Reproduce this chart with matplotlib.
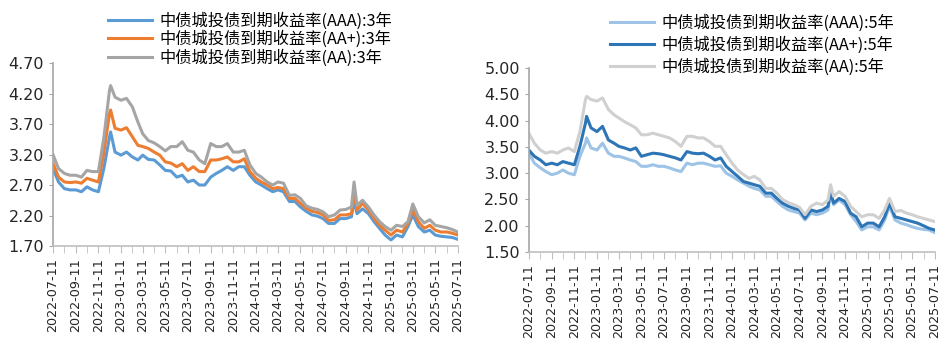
import numpy as np
import pandas as pd
import matplotlib
matplotlib.use("Agg")
import matplotlib.pyplot as plt
import matplotlib.dates as mdates
from matplotlib.ticker import FixedLocator, FormatStrFormatter

plt.rcParams['font.family'] = ['Noto Sans CJK SC', 'DejaVu Sans']

# dates : 11 et 26 de chaque mois + deux points de pic
base = []
for m in pd.period_range('2022-07', '2025-07', freq='M'):
    base += [f'{m}-11', f'{m}-26']
base = base[:-1]
extra = ['2022-12-14', '2024-10-03']
dates = pd.to_datetime(sorted(base + extra))

# 3 ans
aaa_3y = [2.97, 2.75, 2.64, 2.62, 2.62, 2.59, 2.67, 2.62, 2.59, 2.98, 3.49,
          3.57,
          3.24, 3.19, 3.24, 3.16, 3.11, 3.19, 3.12, 3.11, 3.03, 2.94,
          2.93, 2.83, 2.86, 2.75, 2.78, 2.70, 2.70, 2.83, 2.89, 2.94,
          3.00, 2.94, 3.00, 3.00, 2.86, 2.75, 2.70, 2.64, 2.59, 2.62,
          2.59, 2.43, 2.43, 2.34, 2.27, 2.21, 2.19, 2.15, 2.07, 2.07,
          2.15, 2.15, 2.18,
          2.45,
          2.23, 2.31, 2.23, 2.10, 1.99, 1.88, 1.80, 1.88, 1.85,
          2.02, 2.21, 2.02, 1.93, 1.96, 1.88, 1.86, 1.85, 1.84, 1.81]
aap_3y = [3.06, 2.83, 2.75, 2.74, 2.75, 2.73, 2.81, 2.78, 2.75, 3.24, 3.87,
          3.93,
          3.63, 3.60, 3.64, 3.49, 3.35, 3.33, 3.30, 3.24, 3.19, 3.08,
          3.06, 3.00, 3.05, 2.94, 3.00, 2.92, 2.92, 3.11, 3.11, 3.13,
          3.16, 3.08, 3.08, 3.13, 2.92, 2.81, 2.75, 2.70, 2.64, 2.66,
          2.64, 2.48, 2.48, 2.40, 2.32, 2.27, 2.25, 2.21, 2.12, 2.13,
          2.21, 2.21, 2.23,
          2.59,
          2.29, 2.40, 2.29, 2.15, 2.04, 1.96, 1.88, 1.96, 1.93,
          2.07, 2.29, 2.10, 1.99, 2.04, 1.96, 1.93, 1.93, 1.91, 1.88]
aa_3y = [3.20, 2.97, 2.89, 2.86, 2.86, 2.83, 2.94, 2.92, 2.92, 3.49, 4.25,
         4.33,
         4.14, 4.09, 4.12, 3.98, 3.73, 3.54, 3.43, 3.39, 3.33, 3.26,
         3.33, 3.33, 3.41, 3.27, 3.24, 3.11, 3.05, 3.38, 3.33, 3.33,
         3.38, 3.24, 3.24, 3.27, 3.03, 2.89, 2.83, 2.75, 2.70, 2.75,
         2.73, 2.53, 2.54, 2.48, 2.36, 2.32, 2.30, 2.26, 2.18, 2.21,
         2.29, 2.30, 2.34,
         2.75,
         2.37, 2.45, 2.34, 2.21, 2.10, 2.02, 1.96, 2.04, 2.02,
         2.10, 2.39, 2.18, 2.08, 2.13, 2.04, 2.02, 2.00, 1.97, 1.93]

# 5 ans
aaa_5y = [3.38, 3.19, 3.10, 3.03, 2.97, 3.00, 3.06, 3.00, 2.97, 3.32, 3.57,
          3.67,
          3.48, 3.44, 3.57, 3.38, 3.32, 3.32, 3.29, 3.25, 3.22, 3.13,
          3.13, 3.16, 3.13, 3.13, 3.10, 3.06, 3.03, 3.19, 3.16, 3.19,
          3.19, 3.16, 3.13, 3.14, 3.00, 2.94, 2.87, 2.81, 2.75, 2.71,
          2.68, 2.56, 2.56, 2.46, 2.37, 2.30, 2.27, 2.24, 2.11, 2.24,
          2.21, 2.24, 2.30,
          2.62,
          2.40, 2.49, 2.40, 2.21, 2.08, 1.92, 1.98, 1.98, 1.92,
          2.11, 2.37, 2.11, 2.05, 2.02, 1.98, 1.95, 1.93, 1.92, 1.87]
aap_5y = [3.44, 3.32, 3.25, 3.16, 3.19, 3.16, 3.22, 3.19, 3.16, 3.51, 3.95,
          4.08,
          3.86, 3.79, 3.89, 3.63, 3.57, 3.51, 3.48, 3.44, 3.48, 3.32,
          3.35, 3.38, 3.37, 3.35, 3.32, 3.29, 3.25, 3.41, 3.38, 3.37,
          3.38, 3.32, 3.25, 3.29, 3.13, 3.03, 2.94, 2.84, 2.81, 2.78,
          2.75, 2.62, 2.62, 2.52, 2.43, 2.37, 2.33, 2.30, 2.14, 2.30,
          2.27, 2.30, 2.37,
          2.65,
          2.43, 2.52, 2.46, 2.24, 2.17, 1.98, 2.05, 2.05, 1.98,
          2.17, 2.42, 2.17, 2.14, 2.11, 2.08, 2.05, 2.00, 1.95, 1.92]
aa_5y = [3.76, 3.57, 3.44, 3.38, 3.41, 3.38, 3.44, 3.48, 3.41, 3.79, 4.40,
         4.46,
         4.40, 4.37, 4.43, 4.21, 4.11, 4.05, 3.98, 3.92, 3.86, 3.73,
         3.73, 3.76, 3.73, 3.70, 3.67, 3.60, 3.51, 3.70, 3.70, 3.67,
         3.67, 3.60, 3.51, 3.51, 3.35, 3.19, 3.06, 2.97, 2.90, 2.94,
         2.87, 2.71, 2.71, 2.62, 2.50, 2.44, 2.40, 2.35, 2.21, 2.37,
         2.43, 2.40, 2.49,
         2.78,
         2.56, 2.65, 2.56, 2.37, 2.27, 2.17, 2.21, 2.21, 2.14,
         2.30, 2.52, 2.27, 2.29, 2.24, 2.21, 2.17, 2.14, 2.11, 2.08]

labels_3y = ['中债城投债到期收益率(AAA):3年', '中债城投债到期收益率(AA+):3年', '中债城投债到期收益率(AA):3年']
labels_5y = ['中债城投债到期收益率(AAA):5年', '中债城投债到期收益率(AA+):5年', '中债城投债到期收益率(AA):5年']
colors_3y = ['#5B9BD5', '#ED7D31', '#A5A5A5']
colors_5y = ['#9DC3E6', '#2E75B6', '#D0D0D0']

major_ticks = pd.date_range('2022-07-01', '2025-07-01', freq='2MS') + pd.Timedelta(days=10)
minor_ticks = pd.date_range('2022-07-01', '2025-07-01', freq='MS') + pd.Timedelta(days=10)

fig = plt.figure(figsize=(9.46, 3.54), dpi=100)
ax1 = fig.add_axes([0.056, 0.305, 0.428, 0.517])
ax2 = fig.add_axes([0.559, 0.288, 0.429, 0.520])


def style(ax, ymin, ymax):
    ax.set_xlim(pd.Timestamp('2022-07-11'), pd.Timestamp('2025-07-11'))
    ax.set_ylim(ymin, ymax)
    ax.set_yticks(np.arange(ymin, ymax + 0.01, 0.5))
    ax.yaxis.set_major_formatter(FormatStrFormatter('%.2f'))
    ax.xaxis.set_major_locator(FixedLocator(mdates.date2num(major_ticks)))
    ax.xaxis.set_minor_locator(FixedLocator(mdates.date2num(minor_ticks)))
    ax.xaxis.set_major_formatter(mdates.DateFormatter('%Y-%m-%d'))
    for lab in ax.get_xticklabels():
        lab.set_rotation(90)
        lab.set_family('DejaVu Sans')
    for lab in ax.get_yticklabels():
        lab.set_family('DejaVu Sans')
    ax.tick_params(axis='x', which='both', length=5, color='#BFBFBF', labelsize=9.2, labelcolor='#262626')
    ax.tick_params(axis='y', length=3, color='#A6A6A6', labelsize=11.5, labelcolor='#262626')
    for s in ['top', 'right']:
        ax.spines[s].set_visible(False)
    ax.spines['bottom'].set_color('#BFBFBF')
    ax.spines['left'].set_color('#A6A6A6')
    ax.spines['bottom'].set_linewidth(1.2)
    ax.spines['left'].set_linewidth(1.2)


for vals, c, lab in zip([aaa_3y, aap_3y, aa_3y], colors_3y, labels_3y):
    ax1.plot(dates, vals, color=c, lw=2.2, label=lab)
for vals, c, lab in zip([aaa_5y, aap_5y, aa_5y], colors_5y, labels_5y):
    ax2.plot(dates, vals, color=c, lw=2.2, label=lab)

style(ax1, 1.70, 4.70)
style(ax2, 1.50, 5.00)

ax1.legend(loc='upper left', bbox_to_anchor=(108 / 946, 1 - 12 / 354), bbox_transform=fig.transFigure,
           frameon=False, fontsize=11.7, handlelength=2.7, handletextpad=0.45, labelspacing=0.08,
           borderpad=0, borderaxespad=0)
ax2.legend(loc='upper left', bbox_to_anchor=(610 / 946, 1 - 14 / 354), bbox_transform=fig.transFigure,
           frameon=False, fontsize=11.7, handlelength=2.7, handletextpad=0.45, labelspacing=0.28,
           borderpad=0, borderaxespad=0)

fig.savefig('out.png', dpi=100)
